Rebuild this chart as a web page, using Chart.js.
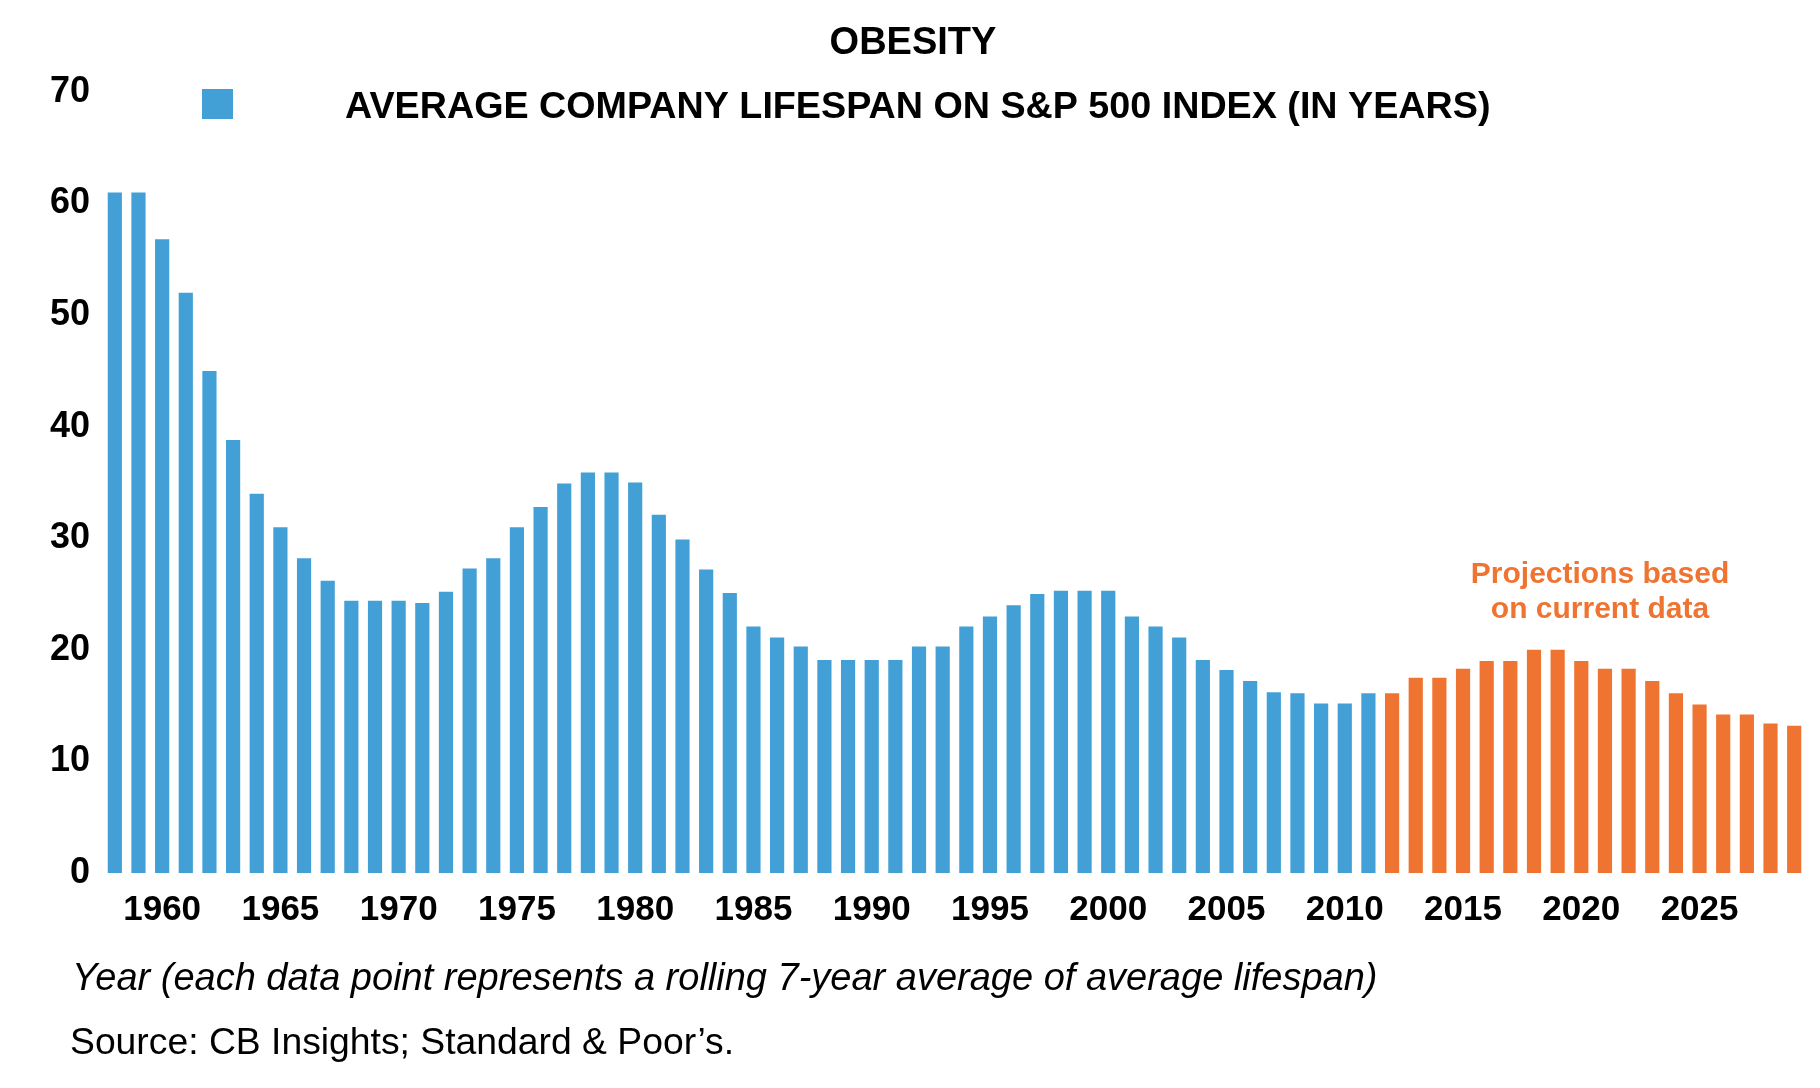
<!DOCTYPE html>
<html>
<head>
<meta charset="utf-8">
<script src="https://cdn.jsdelivr.net/npm/chart.js@4"></script>
<style>
  html, body { margin: 0; padding: 0; background: #fff; }
  #wrap { width: 1820px; height: 1088px; }
</style>
</head>
<body>
<div id="wrap"><canvas id="chart"></canvas></div>
<script>
'use strict';

// ─── Data ─────────────────────────────────────────────
const YEARS_START = 1958;
const historic = [
  61, 61, 56.8, 52, 45, 38.8, 34, 31, 28.2, 26.2,
  24.4, 24.4, 24.4, 24.2, 25.2, 27.3, 28.2, 31, 32.8, 34.9,
  35.9, 35.9, 35, 32.1, 29.9, 27.2, 25.1, 22.1, 21.1, 20.3,
  19.1, 19.1, 19.1, 19.1, 20.3, 20.3, 22.1, 23, 24, 25,
  25.3, 25.3, 25.3, 23, 22.1, 21.1, 19.1, 18.2, 17.2, 16.2,
  16.1, 15.2, 15.2, 16.1,
];
const projected = [
  16.1, 17.5, 17.5, 18.3, 19.0, 19.0, 20.0, 20.0, 19.0,
  18.3, 18.3, 17.2, 16.1, 15.1, 14.2, 14.2, 13.4, 13.2,
];
const years = [...historic, ...projected].map((_, i) => String(YEARS_START + i));
const yTicks = [0, 10, 20, 30, 40, 50, 60, 70];

const BLUE   = '#43a0d6';
const ORANGE = '#f07431';
const FONT   = '"Liberation Sans", Arial, sans-serif';

const title       = 'OBESITY';
const legendLabel = 'AVERAGE COMPANY LIFESPAN ON S&P 500 INDEX (IN YEARS)';
const noteLines   = ['Projections based', 'on current data'];
const axisNote    = 'Year (each data point represents a rolling 7-year average of average lifespan)';
const sourceNote  = 'Source: CB Insights; Standard & Poor\u2019s.';

// ─── Texts drawn around the plot ─────────────────────
const decorations = {
  id: 'decorations',
  afterDraw(chart) {
    const ctx = chart.ctx;
    ctx.save();
    ctx.textBaseline = 'middle';

    ctx.fillStyle = '#000';
    ctx.textAlign = 'center';
    ctx.font = `bold 38px ${FONT}`;
    ctx.fillText(title, 913, 44);

    ctx.fillStyle = BLUE;
    ctx.fillRect(202, 89, 31, 30);
    ctx.fillStyle = '#000';
    ctx.textAlign = 'left';
    ctx.font = `bold 37.7px ${FONT}`;
    ctx.fillText(legendLabel, 345, 108);

    ctx.fillStyle = ORANGE;
    ctx.textAlign = 'center';
    ctx.font = `bold 30px ${FONT}`;
    ctx.fillText(noteLines[0], 1600, 575);
    ctx.fillText(noteLines[1], 1600, 610);

    ctx.fillStyle = '#000';
    ctx.textAlign = 'left';
    ctx.font = `italic 38px ${FONT}`;
    ctx.fillText(axisNote, 72, 979);
    ctx.font = `37.3px ${FONT}`;
    ctx.fillText(sourceNote, 70, 1044);
    ctx.restore();
  },
};

new Chart(document.getElementById('chart').getContext('2d'), {
  type: 'bar',
  data: {
    labels: years,
    datasets: [{
      label: legendLabel,
      data: [...historic, ...projected],
      backgroundColor: years.map((_, i) => (i < historic.length ? BLUE : ORANGE)),
      borderWidth: 0,
      barPercentage: 0.6,
      categoryPercentage: 1,
    }],
  },
  options: {
    responsive: true,
    maintainAspectRatio: false,
    animation: false,
    layout: { padding: { top: 92, right: 14, bottom: 155, left: 0 } },
    plugins: { legend: { display: false }, tooltip: { enabled: false } },
    scales: {
      x: {
        grid: { display: false },
        border: { display: false },
        afterFit: s => { s.height = 60; },
        ticks: {
          autoSkip: false,
          maxRotation: 0,
          padding: 8,
          color: '#000',
          font: { family: FONT, size: 35, weight: 'bold' },
          callback: (v, i) => (Number(years[i]) % 5 === 0 ? years[i] : ''),
        },
      },
      y: {
        min: 0,
        max: 70,
        grid: { display: false },
        border: { display: false },
        afterFit: s => { s.width = 103; },
        afterBuildTicks: s => { s.ticks = yTicks.map(v => ({ value: v })); },
        ticks: {
          padding: 5,
          color: '#000',
          font: { family: FONT, size: 36, weight: 'bold' },
        },
      },
    },
  },
  plugins: [decorations],
});
</script>
</body>
</html>
